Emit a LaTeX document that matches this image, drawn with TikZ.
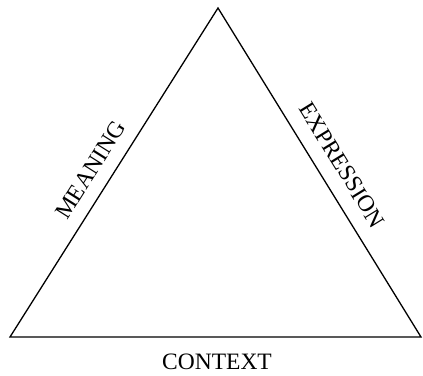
\documentclass[tikz,border=0pt]{standalone}
\usepackage{fontspec}
\setmainfont{Liberation Serif}
\begin{document}
\begin{tikzpicture}[x=1pt,y=-1pt,
  lbl/.style={font=\fontsize{23.5}{28}\selectfont, inner sep=0pt},
  edge/.style={line width=1.3pt, line join=miter}]
\useasboundingbox (0,0) rectangle (423,375);
\coordinate (A) at (218,8);
\coordinate (L) at (10,337);
\coordinate (R) at (421,337);
\draw[edge] (L) -- (A) -- (R) -- cycle;
\path (L) -- (A) node[lbl, pos=0.474, sloped, above=13pt] (meaning) {MEANING};
\path (A) -- (R) node[lbl, pos=0.514, sloped, above=15pt] (expression) {EXPRESSION};
\node[lbl] (context) at (217,361.5) {CONTEXT};
\end{tikzpicture}
\end{document}
